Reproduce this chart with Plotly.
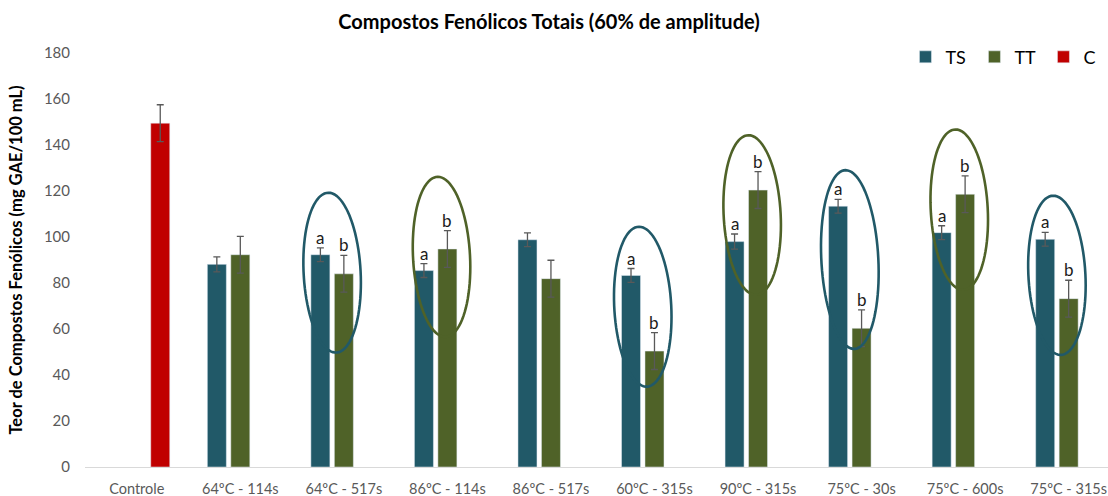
import numpy as np
import plotly.graph_objects as go

# Tratamentos (eixo x)
categorias = ["Controle", "64ºC - 114s", "64ºC - 517s", "86ºC - 114s", "86ºC - 517s",
              "60ºC - 315s", "90ºC - 315s", "75ºC - 30s", "75ºC - 600s", "75ºC - 315s"]

# Teor de compostos fenólicos (mg GAE/100 mL) e desvios
ts = [None, 88.1, 92.3, 85.4, 98.8, 83.3, 98.0, 113.4, 101.9, 99.0]
ts_dp = [None, 3.3, 3.0, 3.0, 3.0, 3.0, 3.3, 3.0, 3.0, 3.0]
tt = [None, 92.3, 84.0, 94.8, 81.9, 50.4, 120.4, 60.3, 118.6, 73.2]
tt_dp = [None, 8.0, 8.0, 8.0, 8.0, 8.0, 8.0, 8.0, 8.0, 8.0]
c = [149.5, None, None, None, None, None, None, None, None, None]
c_dp = [8.0, None, None, None, None, None, None, None, None, None]

# Letras de significância (TS, TT) por tratamento
letras = {2: ("a", "b"), 3: ("a", "b"), 5: ("a", "b"), 6: ("a", "b"),
          7: ("a", "b"), 8: ("a", "b"), 9: ("a", "b")}

COR_TS = "#215968"
COR_TT = "#4F6228"
COR_C = "#C00000"

# Destaques: (tratamento, série em maior valor, limite inferior, limite superior)
destaques = [
    (2, "TS", 49.7, 119.3),
    (3, "TT", 56.5, 126.2),
    (5, "TS", 34.9, 104.5),
    (6, "TT", 74.8, 144.3),
    (7, "TS", 51.3, 129.1),
    (8, "TT", 77.0, 146.8),
    (9, "TS", 48.7, 118.0),
]

W, H = 1108, 496
ML, MR, MT, MB = 85, 0, 53, 29
X_RANGE = [-0.5, 9.38]
Y_RANGE = [0, 180]
BARGAP = 0.32
slot = (1 - BARGAP) / 3

px_x = (W - ML - MR) / (X_RANGE[1] - X_RANGE[0])
px_y = (H - MT - MB) / (Y_RANGE[1] - Y_RANGE[0])

x = list(range(len(categorias)))
FONTE = "Lato"
err_style = dict(type="data", thickness=1.3, width=3.5, color="#595959")

fig = go.Figure()
fig.add_trace(go.Bar(name="TS", x=x, y=ts, marker_color=COR_TS,
                     error_y=dict(array=ts_dp, **err_style)))
fig.add_trace(go.Bar(name="TT", x=x, y=tt, marker_color=COR_TT,
                     error_y=dict(array=tt_dp, **err_style)))
fig.add_trace(go.Bar(name="C", x=x, y=c, marker_color=COR_C,
                     error_y=dict(array=c_dp, **err_style)))

# Letras acima das barras de erro
for i, (la, lb) in letras.items():
    for off, val, dp, txt in ((-slot, ts[i], ts_dp[i], la), (0.0, tt[i], tt_dp[i], lb)):
        fig.add_annotation(x=i + off, y=val + dp, text=txt, showarrow=False,
                           yanchor="bottom", yshift=-2,
                           font=dict(family=FONTE, size=17, color="#1a1a1a"))

# Elipses de destaque, levemente inclinadas
theta = np.deg2rad(3)
t = np.linspace(0, 2 * np.pi, 90)
for i, serie, y0, y1 in destaques:
    cor = COR_TS if serie == "TS" else COR_TT
    dx_px = -0.5 * slot * px_x if serie == "TS" else -0.25 * slot * px_x
    a = (y1 - y0) / 2 * px_y
    b = 28.5
    u = b * np.cos(t)
    v = a * np.sin(t)
    xr = u * np.cos(theta) - v * np.sin(theta)
    yr = u * np.sin(theta) + v * np.cos(theta)
    xs = i + (dx_px + xr) / px_x
    ys = (y0 + y1) / 2 + yr / px_y
    path = "M " + " L ".join(f"{xx:.4f},{yy:.3f}" for xx, yy in zip(xs, ys)) + " Z"
    fig.add_shape(type="path", path=path, xref="x", yref="y",
                  line=dict(color=cor, width=2.6), layer="above")

fig.update_layout(
    width=W, height=H,
    margin=dict(l=ML, r=MR, t=MT, b=MB, autoexpand=False),
    paper_bgcolor="white", plot_bgcolor="white",
    barmode="group", bargap=BARGAP, bargroupgap=0.19,
    font=dict(family=FONTE, color="#595959", size=15),
    title=dict(text="<b>Compostos Fenólicos Totais (60% de amplitude)</b>",
               x=549 / W, xanchor="center", y=1 - 22 / H, yanchor="middle",
               font=dict(family=FONTE, size=20, color="#000000")),
    legend=dict(orientation="h", x=0.802, xanchor="left", y=0.99, yanchor="middle",
                font=dict(family=FONTE, size=18, color="#000000"),
                entrywidth=24, bgcolor="rgba(0,0,0,0)"),
    showlegend=True,
)
fig.update_xaxes(range=X_RANGE, tickvals=x, ticktext=categorias, showgrid=False,
                 zeroline=False, showline=True, linecolor="#d9d9d9", linewidth=1,
                 ticks="", ticklabelstandoff=9, tickfont=dict(size=14.5, color="#595959"))
fig.update_yaxes(range=Y_RANGE, dtick=20, showgrid=False, zeroline=False, showline=False,
                 ticks="", ticklabelstandoff=14, tickfont=dict(size=15, color="#595959"),
                 title=dict(text="<b>Teor de Compostos Fenólicos (mg GAE/100 mL)</b>",
                            standoff=17, font=dict(family=FONTE, size=16.5, color="#000000")))

fig.write_html("out.html")
